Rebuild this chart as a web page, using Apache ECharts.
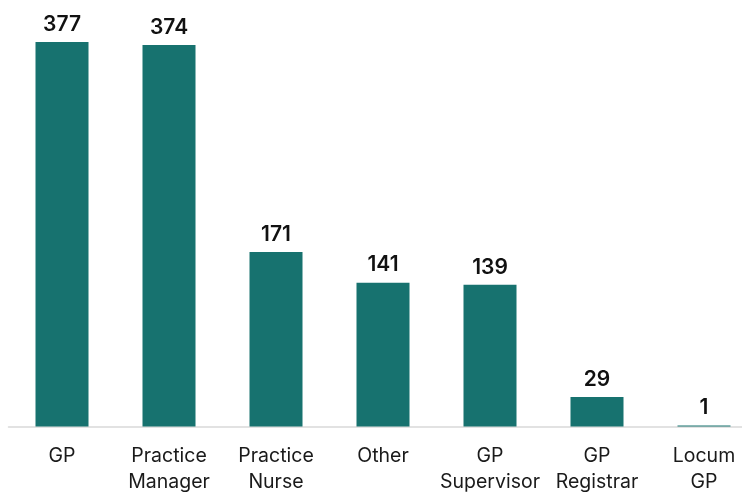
<!DOCTYPE html>
<html><head><meta charset="utf-8">
<script src="https://cdn.jsdelivr.net/npm/echarts@6/dist/echarts.min.js"></script>
<style>html,body{margin:0;padding:0;background:#fff}#c{width:742px;height:494px}</style>
</head><body><div id="c"></div>
<script>
const categories = ['GP', 'Practice\nManager', 'Practice\nNurse', 'Other', 'GP\nSupervisor', 'GP\nRegistrar', 'Locum\nGP'];
const values = [377, 374, 171, 141, 139, 29, 1];
const chart = echarts.init(document.getElementById('c'));
chart.setOption({
  animation: false,
  grid: { left: 8.5, right: -15.5, top: 18.5, bottom: 67.5, outerBoundsMode: 'none', containLabel: false },
  xAxis: {
    type: 'category', data: categories,
    axisLine: { lineStyle: { color: '#d9d9d9', width: 1.5 } },
    axisTick: { show: false },
    axisLabel: { color: '#1a1a1a', fontFamily: 'Inter', fontSize: 19.5, lineHeight: 26, margin: 17, interval: 0 }
  },
  yAxis: { type: 'value', min: 0, max: 400, show: false, splitLine: { show: false } },
  series: [{
    type: 'bar', data: values, barWidth: 53,
    itemStyle: { color: '#17726f' },
    label: { show: true, position: 'top', distance: 7, color: '#111', fontFamily: 'Inter', fontWeight: 600, fontSize: 21 }
  }]
});
</script></body></html>
